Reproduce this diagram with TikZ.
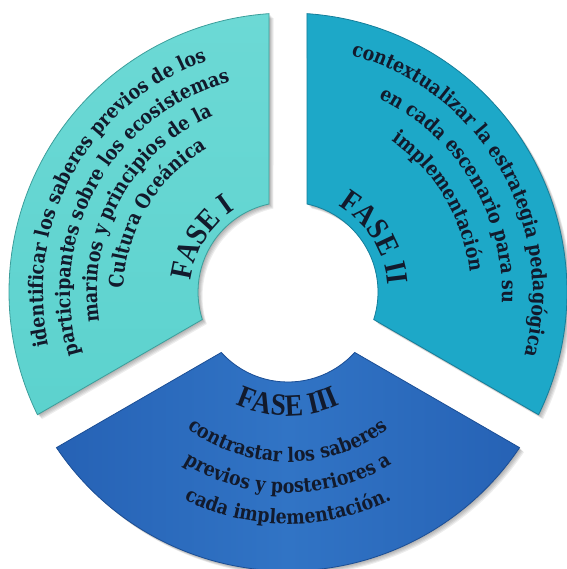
\documentclass[tikz,border=0pt]{standalone}
\usepackage{fontspec}
\setmainfont{DejaVu Serif}
\newfontfamily\bodyfont{DejaVu Serif}[FakeStretch=0.87]
\newfontfamily\phasefont{Liberation Serif}[FakeStretch=0.88]
\usetikzlibrary{decorations.text}

\definecolor{phaseOneFill}{HTML}{5CD2CE}
\definecolor{phaseOneTop}{HTML}{6CD9D5}
\definecolor{phaseOneLine}{HTML}{3C9E9B}
\definecolor{phaseTwoFill}{HTML}{1DA8C8}
\definecolor{phaseTwoLine}{HTML}{157E9A}
\definecolor{phaseThreeFill}{HTML}{3174C5}
\definecolor{phaseThreeEdge}{HTML}{2662B5}
\definecolor{phaseThreeLine}{HTML}{1B4E95}
\definecolor{inkText}{HTML}{121A2C}

% ring part between two gap directions #1 < #2 (degrees):
% outer radius 279, inner radius 90, gaps 38 wide
\newcommand\ringpart[2]{(#1+3.905:279) arc[start angle=#1+3.905, end angle=#2-3.905, radius=279]
  -- (#2-12.19:90) arc[start angle=#2-12.19, end angle=#1+12.19, radius=90] -- cycle}

\newcommand\bodytext{\bodyfont\bfseries\fontsize{20}{20}\selectfont}
\newcommand\phasetext{\phasefont\bfseries\fontsize{31}{31}\selectfont}

\begin{document}
\begin{tikzpicture}[x=1pt,y=1pt,
  arctext/.style={decorate, decoration={text along path, text align=center,
      text color=inkText, text={|\bodytext|#1}}},
  phasetitle/.style={decorate, decoration={text along path, text align=center,
      text color=inkText, text={|\phasetext|#1}}},
  softshadow/.style={fill=black, fill opacity=0.07}]
\useasboundingbox (-288,-277) rectangle (278,292);

% soft drop shadows under the three parts
\foreach \d in {1,2,3,4,5} {
  \fill[softshadow, xshift=\d*0.9pt, yshift=-\d*0.9pt] \ringpart{90}{210};
  \fill[softshadow, xshift=\d*0.9pt, yshift=-\d*0.9pt] \ringpart{-30}{90};
  \fill[softshadow, xshift=\d*0.9pt, yshift=-\d*0.9pt] \ringpart{210}{330};
}

% the three parts of the ring
\shade[top color=phaseOneTop, bottom color=phaseOneFill] \ringpart{90}{210};
\draw[phaseOneLine, line width=0.8pt] \ringpart{90}{210};
\fill[phaseTwoFill] \ringpart{-30}{90};
\draw[phaseTwoLine, line width=0.8pt] \ringpart{-30}{90};
\shade[left color=phaseThreeEdge, right color=phaseThreeEdge, middle color=phaseThreeFill] \ringpart{210}{330};
\draw[phaseThreeLine, line width=0.8pt] \ringpart{210}{330};

% phase I, read clockwise
\path[arctext={identificar los saberes previos de los}] (206:245) arc[start angle=206, end angle=96, radius=245];
\path[arctext={participantes sobre los ecosistemas}] (206:218) arc[start angle=206, end angle=96, radius=218];
\path[arctext={marinos y principios de la}] (206:191) arc[start angle=206, end angle=96, radius=191];
\path[arctext={Cultura Oceánica}] (204:164) arc[start angle=204, end angle=94, radius=164];
\path[phasetitle={FASE I}] (203:98) arc[start angle=203, end angle=93, radius=98];

% phase II, read clockwise
\path[arctext={contextualizar la estrategia pedagógica}] (85:245) arc[start angle=85, end angle=-25, radius=245];
\path[arctext={en cada escenario para su}] (86:214) arc[start angle=86, end angle=-24, radius=214];
\path[arctext={implementación}] (86:183) arc[start angle=86, end angle=-24, radius=183];
\path[phasetitle={FASE II}] (87:100) arc[start angle=87, end angle=-23, radius=100];

% phase III, read counter-clockwise
\path[phasetitle={FASE III}] (215:124) arc[start angle=215, end angle=325, radius=124];
\path[arctext={contrastar los saberes}] (215:170) arc[start angle=215, end angle=325, radius=170];
\path[arctext={previos y posteriores a}] (215:201) arc[start angle=215, end angle=325, radius=201];
\path[arctext={cada implementación.}] (215:232) arc[start angle=215, end angle=325, radius=232];
\end{tikzpicture}
\end{document}
